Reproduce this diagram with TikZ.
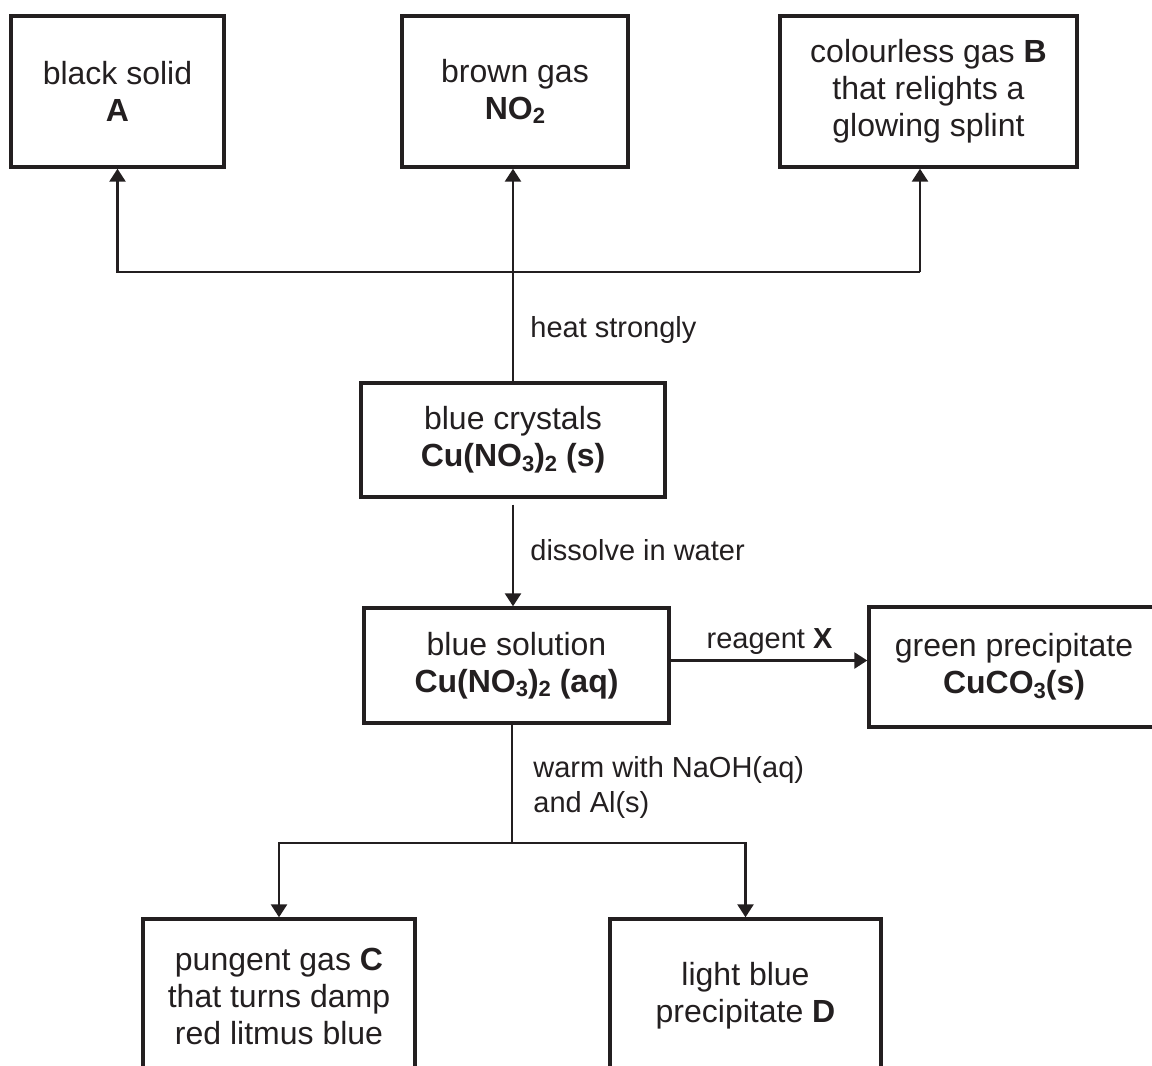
\documentclass[tikz,border=0pt]{standalone}
\usepackage{fontspec}
\setmainfont{Liberation Sans}
\usetikzlibrary{arrows.meta, calc, positioning}
\definecolor{ink}{HTML}{231F20}
\newcommand{\boxfont}{\fontsize{16}{18.5}\selectfont}
\newcommand{\labfont}{\fontsize{14.5}{17.5}\selectfont}
\newcommand{\sbs}[1]{\raisebox{-0.25ex}{\fontsize{11}{11}\selectfont #1}}

\begin{document}
\begin{tikzpicture}[x=0.5pt, y=-0.5pt, ink,
  chem/.style={draw=ink, text=ink, line width=1.7pt, align=center, inner sep=0pt, font=\boxfont},
  arr/.style={line width=1.3pt, -{Triangle[length=6.5pt,width=8pt]}},
  link/.style={line width=1.3pt},
  cond/.style={text=ink, font=\labfont, inner sep=0pt}]
\clip (0,0) rectangle (1152,1066);

% products of heating
\node[chem, minimum width=106.5pt, minimum height=75.5pt] (solidA) at (117.5,91.5) {black solid\\\textbf{A}};
\node[chem, minimum width=113pt, minimum height=75.5pt] (gasNO) at (515,91.5) {brown gas\\\textbf{NO\sbs{2}}};
\node[chem, minimum width=148.5pt, minimum height=75.5pt] (gasB) at (928.5,91.5) {colourless gas \textbf{B}\\that relights a\\glowing splint};

% copper nitrate
\node[chem, minimum width=152pt, minimum height=57pt] (crystals) at (513,440) {blue crystals\\\textbf{Cu(NO\sbs{3})\sbs{2} (s)}};
\node[chem, minimum width=152.5pt, minimum height=57.5pt] (solution) at (516.5,665.5) {blue solution\\\textbf{Cu(NO\sbs{3})\sbs{2} (aq)}};
\node[chem, minimum width=145pt, minimum height=60pt] (green) at (1014,667) {green precipitate\\\textbf{CuCO\sbs{3}(s)}};

% tests on the solution
\node[chem, minimum width=136pt, minimum height=77pt] (gasC) at (279,996) {pungent gas \textbf{C}\\that turns damp\\red litmus blue};
\node[chem, minimum width=135.5pt, minimum height=77pt] (precD) at (745.5,996) {light blue\\precipitate \textbf{D}};

% heat strongly
\coordinate (toB) at (920,272);
\draw[arr] (crystals.north) -- (crystals.north |- gasNO.south);
\draw[arr] (toB) -- (toB -| solidA) -- (solidA);
\draw[arr] (toB) -- (toB |- gasB.south);
\node[cond, anchor=west] (heat) at (530,330) {heat strongly};

% dissolve and reagent X
\draw[arr, shorten <=3pt] (crystals.south) -- (crystals.south |- solution.north);
\node[cond, anchor=west] (dissolve) at (530,550) {dissolve in water};
\draw[arr] ([yshift=2.5pt]solution.east) -- ([yshift=2.5pt]solution.east -| green.west);
\node[cond] (reagent) at (769.5,642) {reagent \textbf{X}};

% warm with NaOH and Al
\coordinate (joinlow) at (512,843);
\draw[link] (joinlow |- solution.south) -- (joinlow);
\draw[arr] (joinlow) -| (gasC.north);
\draw[arr] (joinlow) -| (precD.north);
\node[cond, anchor=west, align=left] (warm) at (533,787.5) {warm with NaOH(aq)\\and Al(s)};
\end{tikzpicture}
\end{document}
